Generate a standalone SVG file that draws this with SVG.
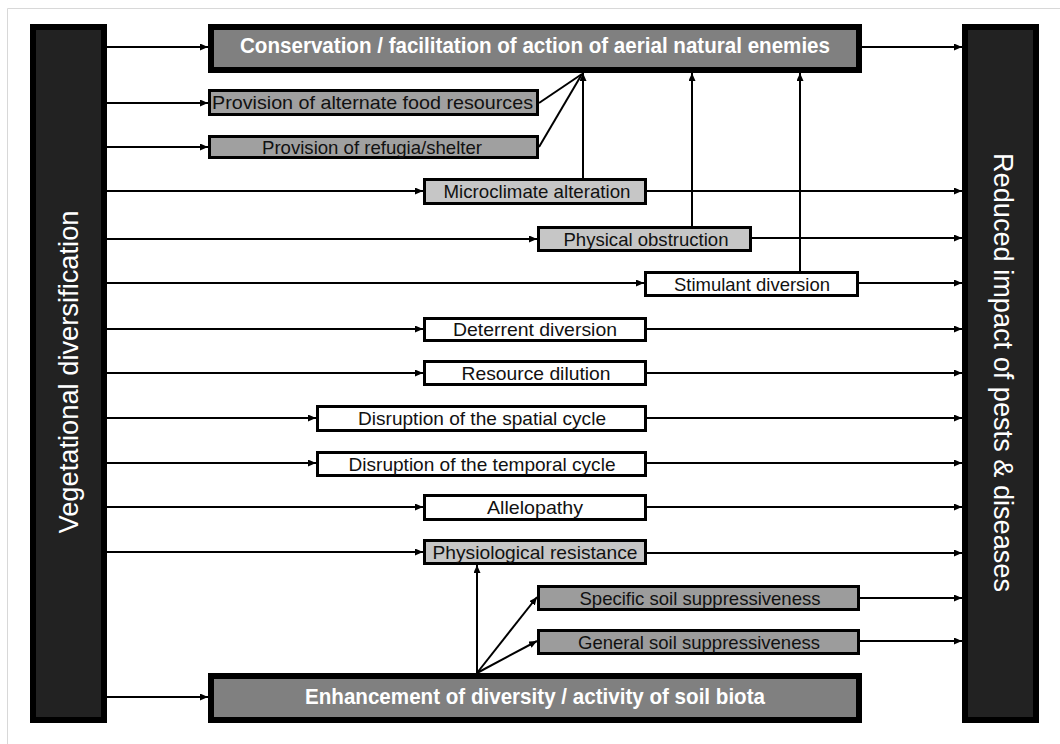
<svg xmlns="http://www.w3.org/2000/svg" width="1060" height="744" viewBox="0 0 1060 744">
<style>
.bar{fill:#222;stroke:#000;stroke-width:6}
.big{fill:#808080;stroke:#000;stroke-width:6}
.box{stroke:#000;stroke-width:3}
.g1{fill:#a0a0a0}
.g2{fill:#c6c6c6}
.g3{fill:#9c9c9c}
.w{fill:#fff}
.t{font-family:"Liberation Sans",Arial,sans-serif;font-size:18.5px;fill:#111;text-anchor:middle}
.tb{font-family:"Liberation Sans",Arial,sans-serif;font-size:22px;font-weight:bold;fill:#fff;text-anchor:middle}
.tv{font-family:"Liberation Sans",Arial,sans-serif;font-size:27px;fill:#fff;text-anchor:middle}
.c line,.c path{stroke:#000;stroke-width:2;fill:none}
.a{marker-end:url(#arr)}
</style>
<defs>
<marker id="arr" markerWidth="9" markerHeight="9" refX="8" refY="3.5" orient="auto" markerUnits="userSpaceOnUse"><path d="M0,0 L8,3.5 L0,7 z" fill="#000"/></marker>
</defs>
<rect width="1060" height="744" fill="#fff"/>
<path d="M7.5,744 V8.5 H1060" fill="none" stroke="#d8d8d8" stroke-width="1"/>

<g class="c" id="connectors">
<line class="a" x1="107" y1="47" x2="208" y2="47"/>
<line class="a" x1="107" y1="103" x2="208" y2="103"/>
<line class="a" x1="107" y1="147" x2="208" y2="147"/>
<line class="a" x1="107" y1="191" x2="423" y2="191"/>
<line class="a" x1="107" y1="239" x2="537" y2="239"/>
<line class="a" x1="107" y1="283" x2="644" y2="283"/>
<line class="a" x1="107" y1="329" x2="423" y2="329"/>
<line class="a" x1="107" y1="373" x2="423" y2="373"/>
<line class="a" x1="107" y1="418" x2="316" y2="418"/>
<line class="a" x1="107" y1="463" x2="316" y2="463"/>
<line class="a" x1="107" y1="507" x2="423" y2="507"/>
<line class="a" x1="107" y1="552" x2="423" y2="552"/>
<line class="a" x1="107" y1="697" x2="208" y2="697"/>

<line class="a" x1="862" y1="47" x2="962" y2="47"/>
<line class="a" x1="647" y1="191" x2="962" y2="191"/>
<line class="a" x1="752" y1="238" x2="962" y2="238"/>
<line class="a" x1="859" y1="283" x2="962" y2="283"/>
<line class="a" x1="647" y1="329" x2="962" y2="329"/>
<line class="a" x1="647" y1="373" x2="962" y2="373"/>
<line class="a" x1="647" y1="418" x2="962" y2="418"/>
<line class="a" x1="647" y1="463" x2="962" y2="463"/>
<line class="a" x1="647" y1="507" x2="962" y2="507"/>
<line class="a" x1="647" y1="553" x2="962" y2="553"/>
<line class="a" x1="860" y1="598" x2="962" y2="598"/>
<line class="a" x1="860" y1="641" x2="962" y2="641"/>

<line class="a" x1="583" y1="178" x2="583" y2="73"/>
<line class="a" x1="692" y1="226" x2="692" y2="73"/>
<line class="a" x1="800" y1="271" x2="800" y2="73"/>
<line x1="539" y1="103" x2="582" y2="74"/>
<line x1="539" y1="147" x2="582" y2="74"/>

<line class="a" x1="477" y1="673" x2="477" y2="565"/>
<line class="a" x1="477" y1="673" x2="537" y2="597"/>
<line class="a" x1="477" y1="673" x2="537" y2="641"/>
</g>

<g id="vegetational-diversification">
<rect class="bar" x="33" y="27" width="71" height="693"/>
<text class="tv" transform="translate(78,372) rotate(-90)" textLength="323" lengthAdjust="spacingAndGlyphs">Vegetational diversification</text>
</g>
<g id="reduced-impact">
<rect class="bar" x="965" y="27" width="71" height="693"/>
<text class="tv" transform="translate(994,372.5) rotate(90)" textLength="439" lengthAdjust="spacingAndGlyphs">Reduced impact of pests &amp; diseases</text>
</g>

<g id="conservation">
<rect class="big" x="211" y="27" width="648" height="43"/>
<text class="tb" x="535" y="53" textLength="590" lengthAdjust="spacingAndGlyphs">Conservation / facilitation of action of aerial natural enemies</text>
</g>
<g id="alternate-food">
<rect class="box g1" x="209.5" y="90.5" width="328" height="24"/>
<text class="t" x="372.5" y="109" textLength="321" lengthAdjust="spacingAndGlyphs">Provision of alternate food resources</text>
</g>
<g id="refugia">
<rect class="box g1" x="209.5" y="136.5" width="328" height="21"/>
<text class="t" x="372" y="153.5" textLength="220" lengthAdjust="spacingAndGlyphs">Provision of refugia/shelter</text>
</g>
<g id="microclimate">
<rect class="box g2" x="424.5" y="179.5" width="221" height="24"/>
<text class="t" x="537" y="198" textLength="187" lengthAdjust="spacingAndGlyphs">Microclimate alteration</text>
</g>
<g id="physical-obstruction">
<rect class="box g2" x="538.5" y="227.5" width="212" height="23"/>
<text class="t" x="646" y="245.5" textLength="165" lengthAdjust="spacingAndGlyphs">Physical obstruction</text>
</g>
<g id="stimulant-diversion">
<rect class="box w" x="645.5" y="272.5" width="212" height="23"/>
<text class="t" x="752" y="290.5" textLength="156" lengthAdjust="spacingAndGlyphs">Stimulant diversion</text>
</g>
<g id="deterrent-diversion">
<rect class="box w" x="424.5" y="318.5" width="221" height="22"/>
<text class="t" x="535" y="336" textLength="164" lengthAdjust="spacingAndGlyphs">Deterrent diversion</text>
</g>
<g id="resource-dilution">
<rect class="box w" x="424.5" y="361.5" width="221" height="23"/>
<text class="t" x="536" y="379.5" textLength="149" lengthAdjust="spacingAndGlyphs">Resource dilution</text>
</g>
<g id="spatial-cycle">
<rect class="box w" x="317.5" y="406.5" width="328" height="24"/>
<text class="t" x="482" y="425" textLength="248" lengthAdjust="spacingAndGlyphs">Disruption of the spatial cycle</text>
</g>
<g id="temporal-cycle">
<rect class="box w" x="317.5" y="452.5" width="328" height="23"/>
<text class="t" x="482" y="470.5" textLength="267" lengthAdjust="spacingAndGlyphs">Disruption of the temporal cycle</text>
</g>
<g id="allelopathy">
<rect class="box w" x="424.5" y="495.5" width="221" height="24"/>
<text class="t" x="535" y="514" textLength="96" lengthAdjust="spacingAndGlyphs">Allelopathy</text>
</g>
<g id="physiological-resistance">
<rect class="box g2" x="424.5" y="540.5" width="221" height="23"/>
<text class="t" x="535" y="558.5" textLength="205" lengthAdjust="spacingAndGlyphs">Physiological resistance</text>
</g>
<g id="specific-soil">
<rect class="box g3" x="538.5" y="586.5" width="320" height="23"/>
<text class="t" x="700" y="604.5" textLength="241" lengthAdjust="spacingAndGlyphs">Specific soil suppressiveness</text>
</g>
<g id="general-soil">
<rect class="box g3" x="538.5" y="630.5" width="320" height="23"/>
<text class="t" x="699" y="648.5" textLength="242" lengthAdjust="spacingAndGlyphs">General soil suppressiveness</text>
</g>
<g id="soil-biota">
<rect class="big" x="211" y="676" width="648" height="44"/>
<text class="tb" x="535" y="704" textLength="460" lengthAdjust="spacingAndGlyphs">Enhancement of diversity / activity of soil biota</text>
</g>
</svg>
